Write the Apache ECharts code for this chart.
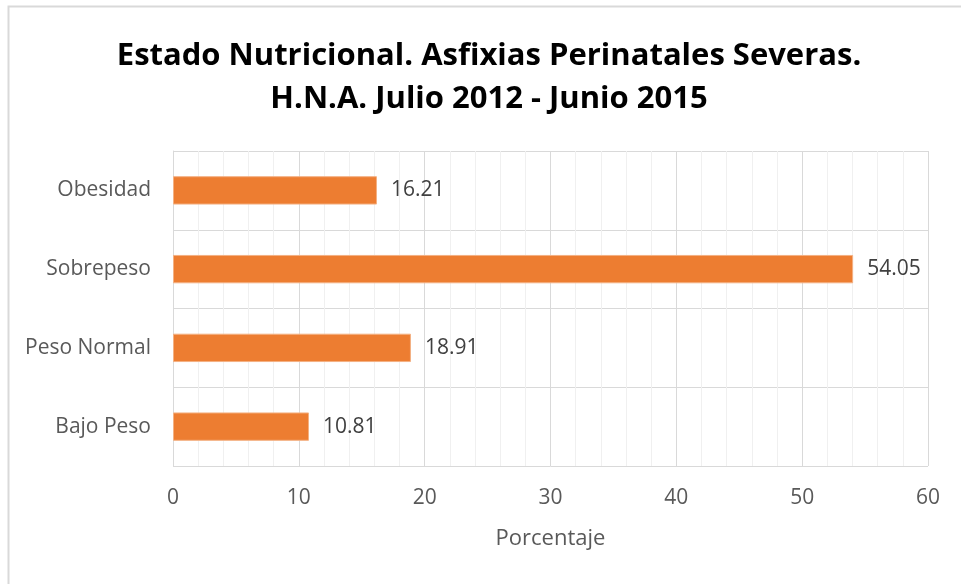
<!DOCTYPE html>
<html>
<head>
<meta charset="utf-8">
<script src="https://cdn.jsdelivr.net/npm/echarts@6/dist/echarts.min.js"></script>
<style>
    html, body { margin: 0; padding: 0; background: #fff; }
    #chart { width: 961px; height: 584px; }
</style>
</head>
<body>
<div id="chart"></div>
<script>
var categories = ['Bajo Peso', 'Peso Normal', 'Sobrepeso', 'Obesidad'];
var values = [10.81, 18.91, 54.05, 16.21];
var xTicks = [0, 10, 20, 30, 40, 50, 60];

var font = 'Open Sans';
var chart = echarts.init(document.getElementById('chart'));

chart.setOption({
    animation: false,
    title: {
        text: 'Estado Nutricional. Asfixias Perinatales Severas.\nH.N.A. Julio 2012 - Junio 2015',
        left: 484,
        top: 30,
        textAlign: 'center',
        padding: 5,
        textStyle: {
            fontFamily: font,
            fontWeight: 'bold',
            fontSize: 31,
            lineHeight: 43,
            color: '#000'
        }
    },
    graphic: [{
        type: 'rect',
        shape: { x: 8.5, y: 6.5, width: 1200, height: 1200 },
        style: { fill: 'none', stroke: '#d9d9d9', lineWidth: 2 },
        silent: true
    }],
    grid: {
        left: 173,
        right: 33,
        top: 151,
        bottom: 118
    },
    xAxis: {
        type: 'value',
        min: xTicks[0],
        max: xTicks[xTicks.length - 1],
        interval: 10,
        name: 'Porcentaje',
        nameLocation: 'middle',
        nameGap: 62,
        nameTextStyle: { fontFamily: font, fontSize: 22, color: '#595959' },
        axisLine: { show: false },
        axisTick: { show: false },
        axisLabel: { fontFamily: font, fontSize: 21, color: '#595959', margin: 22 },
        splitLine: { show: true, lineStyle: { color: '#d9d9d9', width: 1 } },
        minorTick: { show: false, splitNumber: 5 },
        minorSplitLine: { show: true, lineStyle: { color: '#f0f0f0', width: 1 } }
    },
    yAxis: {
        type: 'category',
        data: categories,
        axisLine: { show: true, lineStyle: { color: '#d9d9d9' } },
        axisTick: { show: false },
        axisLabel: { fontFamily: font, fontSize: 21, color: '#595959', margin: 22, padding: [3, 0, 0, 0] },
        splitLine: { show: true, lineStyle: { color: '#d9d9d9', width: 1 } }
    },
    series: [{
        type: 'bar',
        data: values,
        barWidth: '36%',
        itemStyle: { color: '#ed7d31', borderColor: '#f4b183', borderWidth: 1 },
        label: {
            show: true,
            position: 'right',
            distance: 14,
            fontFamily: font,
            fontSize: 21,
            color: '#404040',
            formatter: function (p) { return p.value.toFixed(2); }
        }
    }]
});
</script>
</body>
</html>
